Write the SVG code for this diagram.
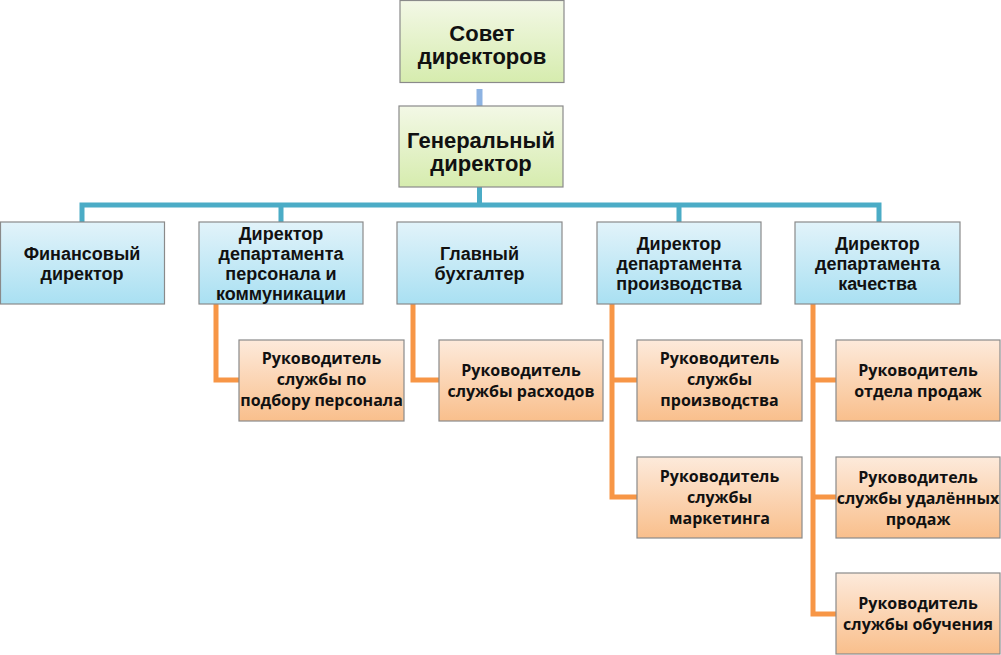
<svg xmlns="http://www.w3.org/2000/svg" width="1001" height="655" viewBox="0 0 1001 655">
<defs>
<linearGradient id="gG" x1="0" y1="0" x2="0" y2="1"><stop offset="0" stop-color="#f3f8e6"/><stop offset="1" stop-color="#d6ecae"/></linearGradient>
<linearGradient id="gB" x1="0" y1="0" x2="0" y2="1"><stop offset="0" stop-color="#e2f3fa"/><stop offset="1" stop-color="#a9e0f2"/></linearGradient>
<linearGradient id="gO" x1="0" y1="0" x2="0" y2="1"><stop offset="0" stop-color="#fdeadb"/><stop offset="1" stop-color="#f9bf8c"/></linearGradient>
</defs>
<style>
.box{stroke:#8a8a8a;stroke-width:1.2}
.g{fill:url(#gG)}.b{fill:url(#gB)}.o{fill:url(#gO)}
.t1{font-family:"Liberation Sans",Arial,sans-serif;font-weight:bold;font-size:22px;fill:#111;text-anchor:middle}
.t2{font-family:"Liberation Sans",Arial,sans-serif;font-weight:bold;font-size:18px;fill:#111;text-anchor:middle}
.t3{font-family:"Open Sans","Noto Sans",sans-serif;font-weight:bold;font-size:16px;fill:#111;text-anchor:middle}
.teal{stroke:#4bacc6;stroke-width:5;fill:none}
.org{stroke:#f79646;stroke-width:5;fill:none}
</style>
<g id="connectors">
<line x1="479.5" y1="89" x2="479.5" y2="106" stroke="#8db3e2" stroke-width="6"/>
<path class="teal" d="M479.5 187V205M82 222V205H879V222M281 205V222M679 205V222"/>
<path class="org" d="M216 304V380H239"/>
<path class="org" d="M413 304V380H440"/>
<path class="org" d="M612 304V497H638M612 380H638"/>
<path class="org" d="M813 304V614H837M813 380H837M813 497H837"/>
</g>
<g id="n-sovet"><rect class="box g" x="400" y="0.5" width="164" height="82"/><text class="t1" x="482" y="41">Совет</text><text class="t1" x="482" y="64">директоров</text></g>
<g id="n-gen"><rect class="box g" x="399" y="106" width="164" height="81"/><text class="t1" x="481" y="148">Генеральный</text><text class="t1" x="481" y="171">директор</text></g>
<g id="n-fin"><rect class="box b" x="0.5" y="222" width="164" height="82"/><text class="t2" x="82" y="259.5">Финансовый</text><text class="t2" x="82" y="279.5">директор</text></g>
<g id="n-pers"><rect class="box b" x="199" y="222" width="164" height="82"/><text class="t2" x="281" y="239.5">Директор</text><text class="t2" x="281" y="259.5">департамента</text><text class="t2" x="281" y="279.5">персонала и</text><text class="t2" x="281" y="299.5">коммуникации</text></g>
<g id="n-buh"><rect class="box b" x="397" y="222" width="165" height="82"/><text class="t2" x="479.5" y="259.5">Главный</text><text class="t2" x="479.5" y="279.5">бухгалтер</text></g>
<g id="n-proizv"><rect class="box b" x="597" y="222" width="164" height="82"/><text class="t2" x="679" y="249.5">Директор</text><text class="t2" x="679" y="269.5">департамента</text><text class="t2" x="679" y="289.5">производства</text></g>
<g id="n-kach"><rect class="box b" x="795" y="222" width="165" height="82"/><text class="t2" x="877.5" y="249.5">Директор</text><text class="t2" x="877.5" y="269.5">департамента</text><text class="t2" x="877.5" y="289.5">качества</text></g>
<g id="n-podbor"><rect class="box o" x="239" y="340" width="165" height="81"/><text class="t3" x="321.5" y="364">Руководитель</text><text class="t3" x="321.5" y="385">службы по</text><text class="t3" x="321.5" y="406">подбору персонала</text></g>
<g id="n-rash"><rect class="box o" x="439" y="340" width="164" height="81"/><text class="t3" x="521" y="376">Руководитель</text><text class="t3" x="521" y="397">службы расходов</text></g>
<g id="n-sprois"><rect class="box o" x="637" y="340" width="165" height="81"/><text class="t3" x="719.5" y="364">Руководитель</text><text class="t3" x="719.5" y="385">службы</text><text class="t3" x="719.5" y="406">производства</text></g>
<g id="n-mark"><rect class="box o" x="637" y="457" width="165" height="81"/><text class="t3" x="719.5" y="482">Руководитель</text><text class="t3" x="719.5" y="503">службы</text><text class="t3" x="719.5" y="524">маркетинга</text></g>
<g id="n-prod"><rect class="box o" x="836" y="340" width="164" height="81"/><text class="t3" x="918" y="376">Руководитель</text><text class="t3" x="918" y="397">отдела продаж</text></g>
<g id="n-udal"><rect class="box o" x="836" y="457" width="164" height="81"/><text class="t3" x="918" y="483">Руководитель</text><text class="t3" x="918" y="504">службы удалённых</text><text class="t3" x="918" y="525">продаж</text></g>
<g id="n-obuch"><rect class="box o" x="836" y="573" width="164" height="81"/><text class="t3" x="918" y="609">Руководитель</text><text class="t3" x="918" y="630">службы обучения</text></g>
</svg>
